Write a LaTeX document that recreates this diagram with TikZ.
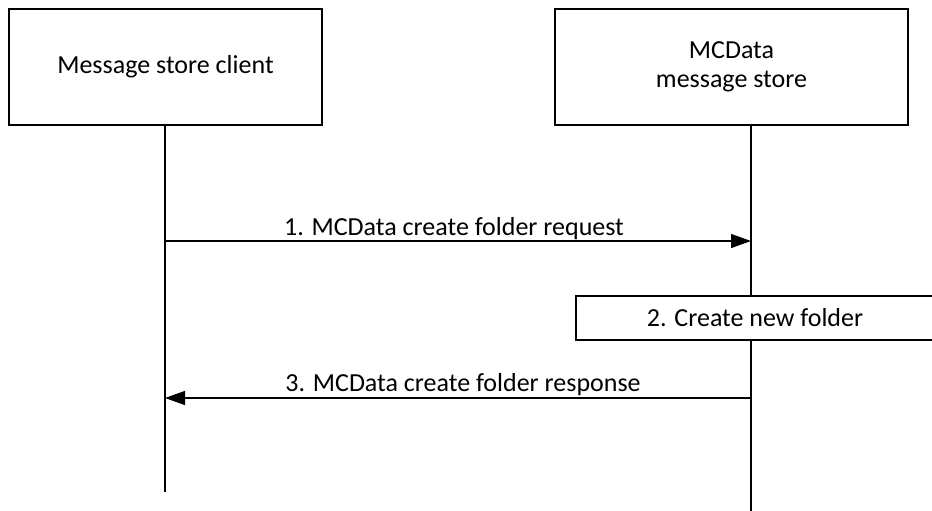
\documentclass[tikz,border=0pt]{standalone}
\usepackage{fontspec}
\setmainfont{Carlito}
\usetikzlibrary{arrows.meta,positioning}

\begin{document}
\begin{tikzpicture}[
  x=1pt,y=-1pt,
  font=\fontsize{26}{29}\selectfont,
  entity/.style={draw,line width=1.3pt,align=center,inner sep=0pt},
  life/.style={line width=1.3pt},
  msg/.style={-{Triangle[length=20pt,width=14pt]},line width=1.3pt},
  lbl/.style={anchor=base}]
\path[use as bounding box] (0,0) rectangle (932,511);
% participants
\node[entity,minimum width=313pt,minimum height=116pt] (client) at (165.5,67)
  {Message store client};
\node[entity,minimum width=353pt,minimum height=116pt] (store) at (731.5,67)
  {MCData\\message store};
\coordinate (clientend) at (165,492);
\coordinate (storeend) at (751,511);
\draw[life] (client.south -| clientend) -- (clientend);
\draw[life] (store.south -| storeend) -- (storeend);
% messages
\coordinate (req1) at (165,241);
\coordinate (req2) at (751,241);
\draw[msg] (req1) -- (req2);
\node[lbl] (reqlbl) at (454,235) {1. MCData create folder request};
\node[entity,fill=white,minimum width=358pt,minimum height=44pt] (folder) at (755,318)
  {2. Create new folder};
\coordinate (resp1) at (751,398);
\coordinate (resp2) at (165,398);
\draw[msg] (resp1) -- (resp2);
\node[lbl] (resplbl) at (463,391) {3. MCData create folder response};
\end{tikzpicture}
\end{document}
